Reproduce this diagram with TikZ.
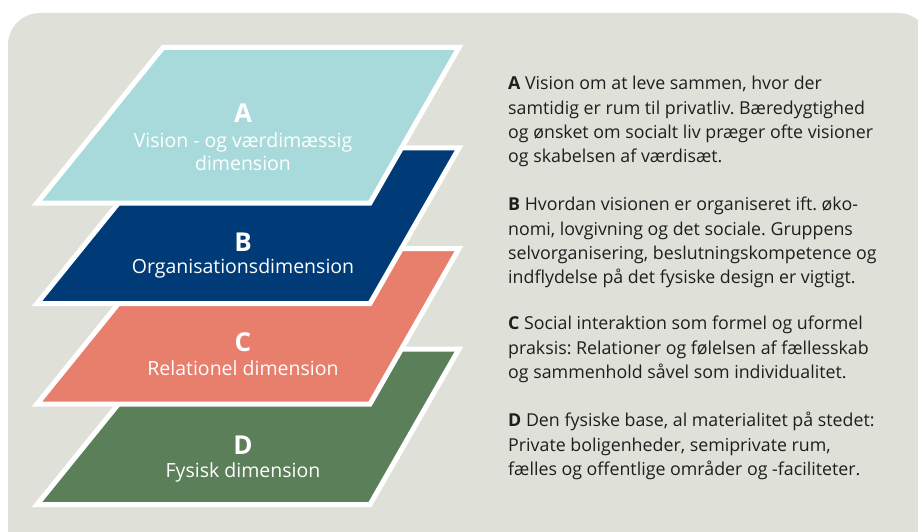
\documentclass[tikz,border=0pt]{standalone}
\usepackage{fontspec}
\setmainfont{Open Sans}
\usepackage{xcolor}
\usetikzlibrary{calc, positioning}
\frenchspacing

\definecolor{panelgrey}{HTML}{DFE1D9}
\definecolor{layera}{HTML}{A8DADC}
\definecolor{layerb}{HTML}{003B77}
\definecolor{layerc}{HTML}{E87E6C}
\definecolor{layerd}{HTML}{5B7F58}
\definecolor{bodytext}{HTML}{1E1E1E}

\newcommand{\layershape}[2]{%
	\draw[layer, fill=#1] (163, #2) -- (459, #2) -- (370, #2 + 155.5) -- (37, #2 + 155.5) -- cycle;}

\begin{document}
\begin{tikzpicture}[x = 1pt, y = -1pt]
			\tikzstyle{layer} = [draw=white, line width = 5pt, line join = miter]
			\tikzstyle{letter} = [text=white, font=\fontsize{26}{28}\selectfont\bfseries]
			\tikzstyle{dimtext} = [text=white, align=center, font=\fontsize{19.5}{23}\selectfont]
			\tikzstyle{para} = [text=bodytext, align=left, anchor=north west, inner sep=0pt, font=\fontsize{17.8}{24.3}\selectfont]
			
			\useasboundingbox (0, 0) rectangle (918, 532);
			\fill[panelgrey, rounded corners = 32pt] (8, 13) rectangle (930, 560);
			
			% layers, bottom one first
			\layershape{layerd}{349}
			\layershape{layerc}{248.5}
			\layershape{layerb}{148}
			\layershape{layera}{47.5}
			
			\node[letter] 	at (243, 113) 	(la) 	{A};
			\node[dimtext] 	at (243, 152) 	(ta) 	{Vision - og værdimæssig\\dimension};
			\node[letter] 	at (243, 242) 	(lb) 	{B};
			\node[dimtext] 	at (243, 268) 	(tb) 	{Organisationsdimension};
			\node[letter] 	at (243, 342) 	(lc) 	{C};
			\node[dimtext] 	at (243, 368) 	(tc) 	{Relationel dimension};
			\node[letter] 	at (243, 445) 	(ld) 	{D};
			\node[dimtext] 	at (243, 472) 	(td) 	{Fysisk dimension};
			
			\node[para] 	at (508, 76) 	(pa) 	{\textbf{A} Vision om at leve sammen, hvor der\\samtidig er rum til privatliv. Bæredygtighed\\og ønsket om socialt liv præger ofte visioner\\og skabelsen af værdisæt.};
			\node[para] 	at (508, 197) 	(pb) 	{\textbf{B} Hvordan visionen er organiseret ift. øko-\\nomi, lovgivning og det sociale. Gruppens\\selvorganisering, beslutningskompetence og\\indflydelse på det fysiske design er vigtigt.};
			\node[para] 	at (508, 316) 	(pc) 	{\textbf{C} Social interaktion som formel og uformel\\praksis: Relationer og følelsen af fællesskab\\og sammenhold såvel som individualitet.};
			\node[para] 	at (508, 412) 	(pd) 	{\textbf{D} Den fysiske base, al materialitet på stedet:\\Private boligenheder, semiprivate rum,\\fælles og offentlige områder og -faciliteter.};
		\end{tikzpicture}
\end{document}
